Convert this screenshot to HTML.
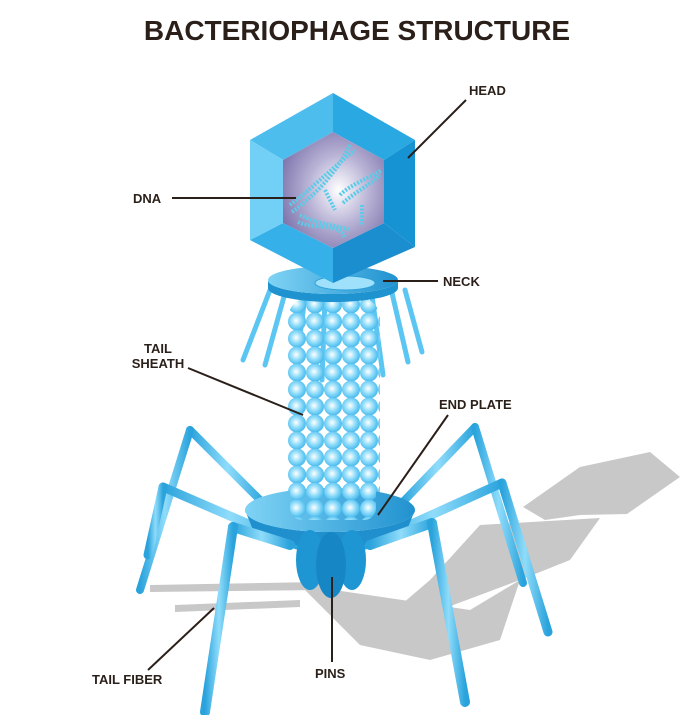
<!DOCTYPE html>
<html><head><meta charset="utf-8"><style>
html,body{margin:0;padding:0;background:#fff;}
svg{display:block}
text{font-family:"Liberation Sans",sans-serif;font-weight:bold;fill:#2b1f1a}
</style></head><body>
<svg width="697" height="715" viewBox="0 0 697 715" xmlns="http://www.w3.org/2000/svg">
<defs>
<radialGradient id="core" cx="0.55" cy="0.5" r="0.6"><stop offset="0" stop-color="#ffffff"/><stop offset="0.5" stop-color="#b9b4d6"/><stop offset="1" stop-color="#7f76ad"/></radialGradient>
<radialGradient id="bead" cx="0.45" cy="0.45" r="0.6"><stop offset="0" stop-color="#ffffff"/><stop offset="0.5" stop-color="#8fdcfa"/><stop offset="1" stop-color="#3cb4ea"/></radialGradient>
<pattern id="beads" x="288" y="296" width="18" height="17" patternUnits="userSpaceOnUse"><circle cx="9" cy="8.5" r="9" fill="url(#bead)"/></pattern>
<linearGradient id="rod" x1="0" y1="0" x2="1" y2="0"><stop offset="0" stop-color="#2aa3dc"/><stop offset="0.5" stop-color="#8fdcfa"/><stop offset="1" stop-color="#2aa3dc"/></linearGradient>
<linearGradient id="plate" x1="0" y1="0" x2="1" y2="0"><stop offset="0" stop-color="#7fd3f5"/><stop offset="1" stop-color="#2192cf"/></linearGradient>
</defs>
<!-- title -->
<text x="357" y="40" font-size="28" text-anchor="middle">BACTERIOPHAGE STRUCTURE</text>
<!-- shadow -->
<g fill="#c8c8c8">
<polygon points="523,507 580,467 650,452 680,477 627,514 580,515 545,520"/>
<polygon points="480,525 600,518 570,560 520,580 440,610 385,650 360,640 430,580"/>
<polygon points="300,585 470,610 520,580 500,640 430,660 360,645"/>
<polygon points="150,585 320,582 320,590 150,592"/>
<polygon points="175,605 300,600 300,607 175,612"/>
</g>
<!-- back legs -->
<g stroke="url(#rod)" stroke-width="8" stroke-linecap="round" fill="none">
<line x1="265" y1="505" x2="190" y2="430"/>
<line x1="190" y1="430" x2="140" y2="590"/>
<line x1="400" y1="505" x2="475" y2="427"/>
<line x1="475" y1="427" x2="523" y2="583"/>
</g>
<!-- collar rods -->
<g stroke="#5cc6f2" stroke-width="5" stroke-linecap="round">
<line x1="270" y1="290" x2="243" y2="360"/>
<line x1="285" y1="293" x2="265" y2="365"/>
<line x1="305" y1="296" x2="295" y2="375"/>
<line x1="325" y1="298" x2="322" y2="380"/>
<line x1="350" y1="298" x2="352" y2="380"/>
<line x1="372" y1="296" x2="383" y2="375"/>
<line x1="392" y1="293" x2="408" y2="362"/>
<line x1="405" y1="290" x2="422" y2="352"/>
</g>
<!-- sheath -->
<rect x="288" y="298" width="92" height="225" rx="20" fill="url(#beads)"/>
<!-- collar -->
<path d="M268,280 A65,14 0 0 0 398,280 L398,288 A65,14 0 0 1 268,288 Z" fill="#1f93d0"/>
<ellipse cx="333" cy="280" rx="65" ry="14" fill="url(#plate)"/>
<ellipse cx="345" cy="283" rx="30" ry="7" fill="#9fe0fa" stroke="#2a9fd8"/>
<!-- head -->
<polygon points="333,93 415,140 384,160 333,132" fill="#2aa8e2"/>
<polygon points="333,93 333,132 283,160 250,140" fill="#4dbdee"/>
<polygon points="415,140 415,247 384,223 384,160" fill="#1593d2"/>
<polygon points="415,247 333,283 333,248 384,223" fill="#1b8ecf"/>
<polygon points="333,283 250,240 283,223 333,248" fill="#36b0e8"/>
<polygon points="250,240 250,140 283,160 283,223" fill="#72d0f6"/>
<polygon points="333,132 384,160 384,223 333,248 283,223 283,160" fill="url(#core)"/>
<g fill="none" stroke="#5ccbe8" stroke-width="4" stroke-dasharray="2 1.5">
<path d="M290,205 C310,190 330,170 355,150"/><path d="M292,212 C315,195 335,175 350,145"/>
<path d="M340,195 C350,185 365,180 382,170"/><path d="M343,203 C355,192 370,185 380,175"/>
<path d="M300,215 C320,225 335,225 350,230"/><path d="M298,222 C315,230 340,222 345,238"/>
<path d="M325,190 L335,210"/><path d="M362,205 L362,225"/>
</g>
<!-- front legs -->
<g stroke="url(#rod)" stroke-width="9" stroke-linecap="round" fill="none">
<line x1="297" y1="545" x2="163" y2="487"/>
<line x1="163" y1="487" x2="148" y2="555"/>
<line x1="365" y1="545" x2="502" y2="483"/>
<line x1="502" y1="483" x2="548" y2="632"/>
</g>
<!-- plate -->
<path d="M245,510 A85,22 0 0 0 415,510 L405,535 Q330,560 255,535 Z" fill="#1f8fce"/>
<ellipse cx="330" cy="510" rx="85" ry="22" fill="url(#plate)"/>
<rect x="290" y="470" width="86" height="50" rx="12" fill="url(#beads)"/>
<!-- pins -->
<g fill="#1e96d3">
<ellipse cx="310" cy="560" rx="14" ry="30"/>
<ellipse cx="352" cy="560" rx="14" ry="30"/>
<ellipse cx="331" cy="565" rx="15" ry="33" fill="#1786c4"/>
</g>
<g stroke="url(#rod)" stroke-width="10" stroke-linecap="round" fill="none">
<line x1="290" y1="545" x2="233" y2="527"/>
<line x1="233" y1="527" x2="205" y2="712"/>
<line x1="370" y1="545" x2="432" y2="523"/>
<line x1="432" y1="523" x2="465" y2="702"/>
</g>
<!-- leader lines -->
<g stroke="#2b1f1a" stroke-width="2">
<line x1="466" y1="100" x2="408" y2="158"/>
<line x1="172" y1="198" x2="296" y2="198"/>
<line x1="383" y1="281" x2="438" y2="281"/>
<line x1="188" y1="368" x2="303" y2="415"/>
<line x1="448" y1="415" x2="378" y2="515"/>
<line x1="148" y1="670" x2="214" y2="608"/>
<line x1="332" y1="577" x2="332" y2="662"/>
</g>
<g font-size="13">
<text x="469" y="95">HEAD</text>
<text x="133" y="203">DNA</text>
<text x="443" y="286">NECK</text>
<text x="158" y="353" text-anchor="middle">TAIL</text>
<text x="158" y="368" text-anchor="middle">SHEATH</text>
<text x="439" y="409">END PLATE</text>
<text x="92" y="684">TAIL FIBER</text>
<text x="315" y="678">PINS</text>
</g>
</svg>
</body></html>
